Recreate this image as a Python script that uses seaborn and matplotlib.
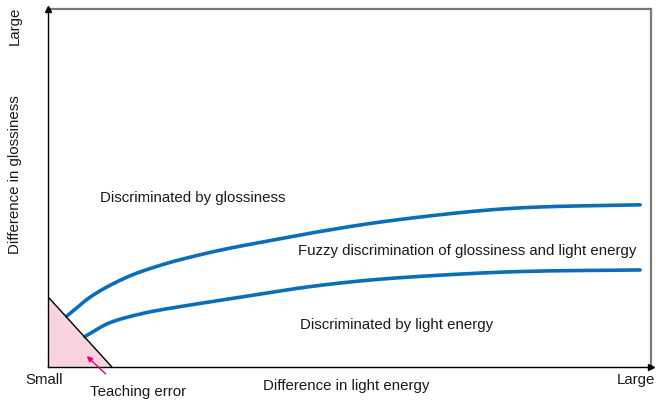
import seaborn as sns
import matplotlib.pyplot as plt
import pandas as pd
import numpy as np

# curve readings (x, y in 0..100 units)
upper_x = [3.1, 7.5, 13.1, 18.6, 24.1, 29.6, 35.2, 44.6, 55.6, 70.0, 81.6, 98.2]
upper_y = [14.2, 20.1, 25.1, 28.4, 30.9, 33.0, 34.8, 37.7, 40.6, 43.4, 44.7, 45.3]
lower_x = [6.1, 10.3, 15.8, 21.3, 26.9, 35.2, 44.6, 55.6, 70.0, 81.6, 98.2]
lower_y = [8.5, 12.4, 15.0, 16.7, 18.2, 20.4, 22.7, 24.6, 26.1, 26.8, 27.1]

# teaching error triangle corners
tri_x = [0, 0, 10.6]
tri_y = [0, 19.6, 0]

region_labels = ['Discriminated by glossiness',
                 'Fuzzy discrimination of glossiness and light energy',
                 'Discriminated by light energy']


def catmull_rom(xs, ys, n=30):
    # smooth curve through the read points
    p = np.column_stack([xs, ys]).astype(float)
    p = np.vstack([2 * p[0] - p[1], p, 2 * p[-1] - p[-2]])
    out = []
    t = np.linspace(0, 1, n, endpoint=False)[:, None]
    for i in range(1, len(p) - 2):
        p0, p1, p2, p3 = p[i - 1], p[i], p[i + 1], p[i + 2]
        seg = 0.5 * ((2 * p1) + (-p0 + p2) * t + (2 * p0 - 5 * p1 + 4 * p2 - p3) * t ** 2
                     + (-p0 + 3 * p1 - 3 * p2 + p3) * t ** 3)
        out.append(seg)
    out.append(p[-2][None, :])
    out = np.vstack(out)
    return out[:, 0], out[:, 1]


rows = []
for name, cx, cy in [('upper', upper_x, upper_y), ('lower', lower_x, lower_y)]:
    sx, sy = catmull_rom(cx, cy)
    rows.append(pd.DataFrame({'x': sx, 'y': sy, 'curve': name}))
df = pd.concat(rows)

sns.set_theme(style='white')
plt.rcParams['font.family'] = ['Liberation Sans', 'DejaVu Sans']
plt.rcParams['font.size'] = 10.8

fig = plt.figure(figsize=(6.56, 4.01), dpi=100)
ax = fig.add_axes([48 / 656, 1 - 367 / 401, 603 / 656, 358 / 401])

sns.lineplot(data=df, x='x', y='y', units='curve', estimator=None, sort=False,
             ax=ax, color='#0a6fb8', linewidth=2.6, legend=False)

ax.fill(tri_x, tri_y, color='#f9d4df', zorder=1)
ax.plot([tri_x[1], tri_x[2]], [tri_y[1], tri_y[2]], color='black', linewidth=1)

ax.set_xlim(0, 100)
ax.set_ylim(0, 100)
ax.set_xticks([])
ax.set_yticks([])
ax.set_xlabel('')
ax.set_ylabel('')
for s in ['top', 'right']:
    ax.spines[s].set_color('#7a7a7a')
    ax.spines[s].set_linewidth(1.6)
for s in ['left', 'bottom']:
    ax.spines[s].set_color('black')
    ax.spines[s].set_linewidth(1)
ax.plot(0, 100, marker='^', color='black', markersize=5, clip_on=False, zorder=5)
ax.plot(100, 0, marker='>', color='black', markersize=5, clip_on=False, zorder=5)

tc = '#1a1a1a'
ax.text(8.6, 47.2, region_labels[0], ha='left', va='center', color=tc)
ax.text(41.5, 32.4, region_labels[1], ha='left', va='center', color=tc)
ax.text(41.8, 11.7, region_labels[2], ha='left', va='center', color=tc)

ax.text(-0.7, -3.6, 'Small', ha='center', va='center', color=tc, clip_on=False)
ax.text(97.5, -3.6, 'Large', ha='center', va='center', color=tc, clip_on=False)
ax.text(49.4, -5.3, 'Difference in light energy', ha='center', va='center', color=tc, clip_on=False)
ax.text(7.0, -7.0, 'Teaching error', ha='left', va='center', color=tc, clip_on=False)

fig.text(15 / 656, 1 - 175 / 401, 'Difference in glossiness', rotation=90, ha='center', va='center', color=tc)
fig.text(15 / 656, 1 - 26 / 401, 'Large', rotation=90, ha='center', va='center', color=tc)

ax.annotate('', xy=(6.1, 3.6), xytext=(9.9, -2.5), annotation_clip=False,
            arrowprops=dict(arrowstyle='-|>', color='#e4007f', lw=1, mutation_scale=8))

fig.savefig('out.png', dpi=100)
